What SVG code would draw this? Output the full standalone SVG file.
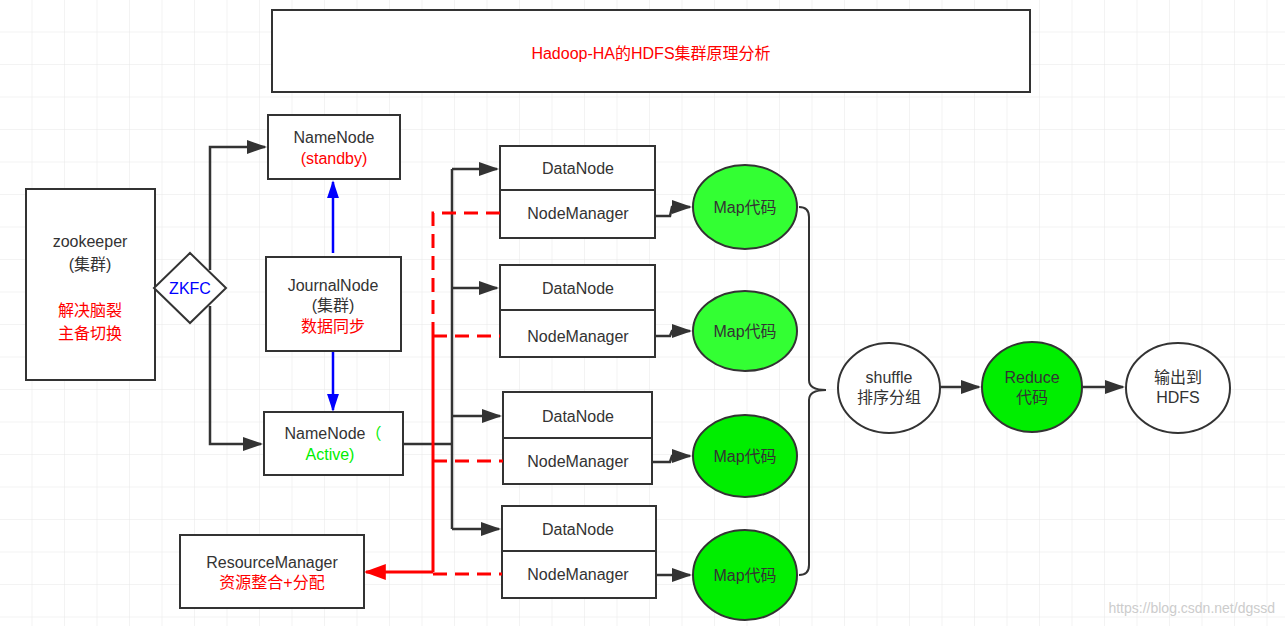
<svg xmlns="http://www.w3.org/2000/svg" width="1285" height="626" viewBox="0 0 1285 626">
<defs>
<pattern id="grid" width="32.5" height="32.5" patternUnits="userSpaceOnUse"><path d="M32.5 0V32.5H0" fill="none" stroke="#e8e8e8" stroke-width="1"/></pattern>
<marker id="ab" viewBox="0 0 10 10" refX="9" refY="5" markerWidth="5" markerHeight="5" orient="auto" markerUnits="userSpaceOnUse"><path d="M0 0L10 5L0 10Z" fill="#333"/></marker>
<marker id="a" viewBox="0 0 10 10" refX="9" refY="5" markerWidth="20" markerHeight="14" orient="auto" markerUnits="userSpaceOnUse" preserveAspectRatio="none"><path d="M0 0L10 5L0 10Z" fill="#333"/></marker>
<marker id="ablue" viewBox="0 0 10 10" refX="9" refY="5" markerWidth="18" markerHeight="12" orient="auto" markerUnits="userSpaceOnUse" preserveAspectRatio="none"><path d="M0 0L10 5L0 10Z" fill="#0000ff"/></marker>
<marker id="ared" viewBox="0 0 10 10" refX="9" refY="5" markerWidth="22" markerHeight="16" orient="auto" markerUnits="userSpaceOnUse" preserveAspectRatio="none"><path d="M0 0L10 5L0 10Z" fill="#ff0000"/></marker>
</defs>
<style>
.b{fill:#fff;stroke:#333;stroke-width:2}
.t{font-family:"Liberation Sans","Noto Sans CJK SC",sans-serif;font-size:16px;fill:#333;text-anchor:middle}
.r{fill:#ff0000}
.g{fill:#00ee00}
.c{fill:none;stroke:#333;stroke-width:2.5}
.rd{fill:none;stroke:#ff0000;stroke-width:3}
</style>
<rect width="1285" height="626" fill="#fff"/>
<rect width="1285" height="626" fill="url(#grid)"/>
<g id="title"><rect class="b" x="272" y="10" width="758" height="82"/><text class="t r" x="651" y="59" font-size="18">Hadoop-HA的HDFS集群原理分析</text></g>
<g id="zookeeper"><rect class="b" x="26" y="189" width="129" height="191"/><text class="t" x="90" y="247" font-size="18">zookeeper</text><text class="t" x="90" y="270" font-size="18">(集群)</text><text class="t r" x="90" y="316" font-size="18">解决脑裂</text><text class="t r" x="90" y="339" font-size="18">主备切换</text></g>
<g id="zkfc"><path class="b" d="M190 253L226 288L190 323L154 288Z"/><text class="t" x="190" y="294" fill="#0000ff" style="fill:#0000ff">ZKFC</text></g>
<g id="nn-standby"><rect class="b" x="268" y="115" width="132" height="64"/><text class="t" x="334" y="143">NameNode</text><text class="t r" x="334" y="164">(standby)</text></g>
<g id="journal"><rect class="b" x="266" y="257" width="135" height="94"/><text class="t" x="333" y="291">JournalNode</text><text class="t" x="333" y="311" font-size="15">(集群)</text><text class="t r" x="333" y="332">数据同步</text></g>
<g id="nn-active"><rect class="b" x="264" y="412" width="139" height="63"/><text class="t" x="333" y="439">NameNode<tspan class="g">（</tspan></text><text class="t g" x="330" y="460">Active)</text></g>
<g id="rm"><rect class="b" x="180" y="535" width="184" height="73"/><text class="t" x="272" y="568">ResourceManager</text><text class="t r" x="272" y="588">资源整合+分配</text></g>
<g id="dn1"><rect class="b" x="500" y="146" width="155" height="92"/><line x1="500" y1="190" x2="655" y2="190" stroke="#333" stroke-width="2"/><text class="t" x="578" y="174">DataNode</text><text class="t" x="578" y="219">NodeManager</text></g>
<g id="dn2"><rect class="b" x="500" y="265" width="155" height="92"/><line x1="500" y1="310" x2="655" y2="310" stroke="#333" stroke-width="2"/><text class="t" x="578" y="294">DataNode</text><text class="t" x="578" y="342">NodeManager</text></g>
<g id="dn3"><rect class="b" x="503" y="392" width="149" height="92"/><line x1="503" y1="438" x2="652" y2="438" stroke="#333" stroke-width="2"/><text class="t" x="578" y="422">DataNode</text><text class="t" x="578" y="467">NodeManager</text></g>
<g id="dn4"><rect class="b" x="502" y="506" width="154" height="92"/><line x1="502" y1="551" x2="656" y2="551" stroke="#333" stroke-width="2"/><text class="t" x="578" y="535">DataNode</text><text class="t" x="578" y="580">NodeManager</text></g>
<g id="maps">
<ellipse cx="745" cy="207" rx="52" ry="42" fill="#33ff33" stroke="#333" stroke-width="2"/><text class="t" x="745" y="213">Map代码</text>
<ellipse cx="745" cy="331" rx="52" ry="40" fill="#33ff33" stroke="#333" stroke-width="2"/><text class="t" x="745" y="337">Map代码</text>
<ellipse cx="745" cy="456" rx="52" ry="41" fill="#00ee00" stroke="#333" stroke-width="2"/><text class="t" x="745" y="462">Map代码</text>
<ellipse cx="745" cy="575" rx="52" ry="45" fill="#00ee00" stroke="#333" stroke-width="2"/><text class="t" x="745" y="581">Map代码</text>
</g>
<g id="shuffle"><ellipse cx="889" cy="388" rx="51" ry="45" fill="#fff" stroke="#333" stroke-width="2"/><text class="t" x="889" y="383">shuffle</text><text class="t" x="889" y="403">排序分组</text></g>
<g id="reduce"><ellipse cx="1032" cy="387" rx="50" ry="45" fill="#00ee00" stroke="#333" stroke-width="2"/><text class="t" x="1032" y="383">Reduce</text><text class="t" x="1032" y="403">代码</text></g>
<g id="output"><ellipse cx="1178" cy="388" rx="52" ry="45" fill="#fff" stroke="#333" stroke-width="2"/><text class="t" x="1178" y="383">输出到</text><text class="t" x="1178" y="403">HDFS</text></g>
<g id="connectors">
<polyline class="c" points="210,270 210,147 265,147" marker-end="url(#a)"/>
<polyline class="c" points="210,306 210,444 261,444" marker-end="url(#a)"/>
<line x1="333" y1="253" x2="333" y2="182" stroke="#0000ff" stroke-width="2.5" marker-end="url(#ablue)"/>
<line x1="333" y1="352" x2="333" y2="410" stroke="#0000ff" stroke-width="2.5" marker-end="url(#ablue)"/>
<polyline class="c" points="403,444 452,444" stroke-width="3"/>
<line class="c" x1="452" y1="169" x2="452" y2="529"/>
<line class="c" x1="452" y1="169" x2="497" y2="169" marker-end="url(#a)"/>
<line class="c" x1="452" y1="288" x2="497" y2="288" marker-end="url(#a)"/>
<line class="c" x1="452" y1="416" x2="500" y2="416" marker-end="url(#a)"/>
<line class="c" x1="452" y1="529" x2="499" y2="529" marker-end="url(#a)"/>
<path class="rd" d="M433 336V213H500" stroke-dasharray="14,8"/>
<line class="rd" x1="433" y1="336" x2="433" y2="572"/>
<line class="rd" x1="433" y1="336" x2="500" y2="336" stroke-dasharray="14,8"/>
<line class="rd" x1="433" y1="461" x2="503" y2="461" stroke-dasharray="14,8"/>
<line class="rd" x1="433" y1="574" x2="502" y2="574" stroke-dasharray="14,8"/>
<line class="rd" x1="433" y1="572" x2="366" y2="572" stroke-width="4" marker-end="url(#ared)"/>
<polyline class="c" points="655,216 670,216 672,207 690,207" marker-end="url(#a)"/>
<polyline class="c" points="655,336 670,336 672,331 690,331" marker-end="url(#a)"/>
<polyline class="c" points="652,462 670,462 672,456 690,456" marker-end="url(#a)"/>
<polyline class="c" points="656,575 690,575" marker-end="url(#a)"/>
<path d="M799 207Q809 207 809 217V380Q809 390 826 390Q809 390 809 400V565Q809 575 799 575" fill="none" stroke="#333" stroke-width="2"/>
<line class="c" x1="940" y1="387" x2="979" y2="387" marker-end="url(#a)"/>
<line class="c" x1="1082" y1="387" x2="1123" y2="387" marker-end="url(#a)"/>
</g>
<text x="1275" y="613" font-family="Liberation Sans,sans-serif" font-size="14" fill="#ccc" text-anchor="end">https://blog.csdn.net/dgssd</text>
</svg>
